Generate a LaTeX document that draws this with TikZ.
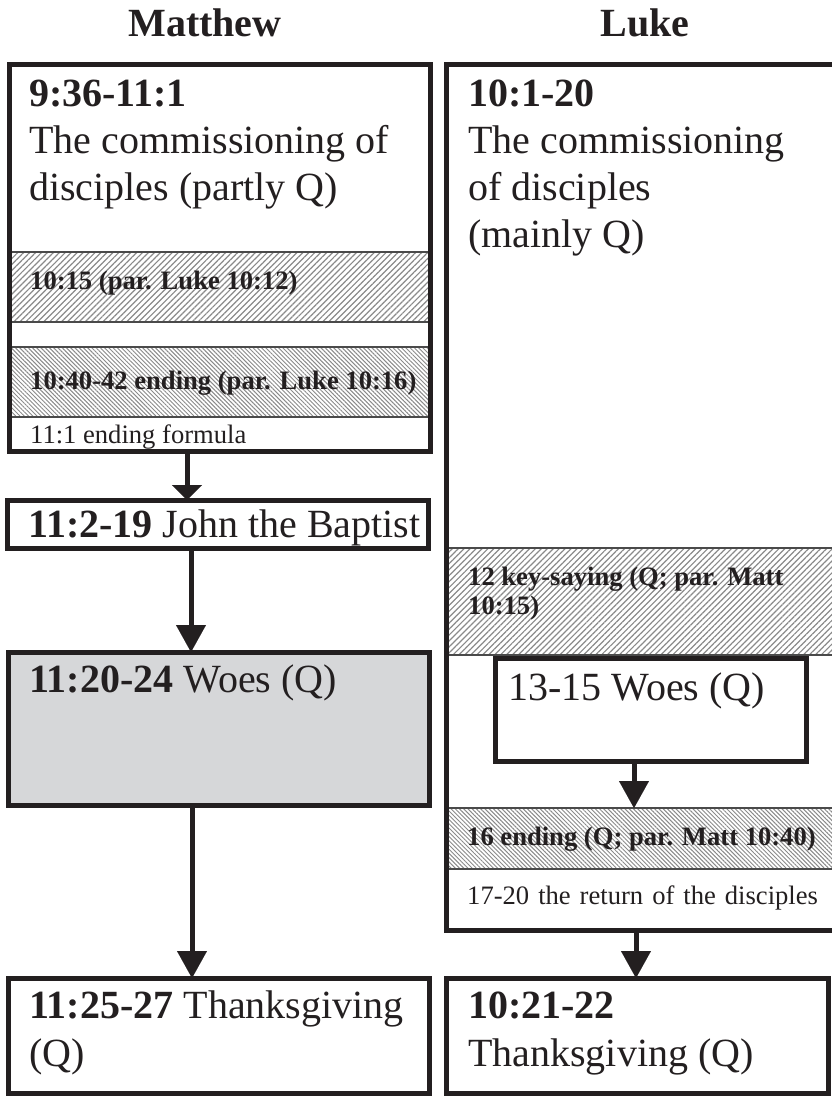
\documentclass[tikz,border=0pt]{standalone}
\usepackage{fontspec}
\setmainfont{Liberation Serif}
\usetikzlibrary{arrows.meta,patterns.meta}

\definecolor{ink}{HTML}{231F20}
\definecolor{woesgray}{HTML}{D6D7D9}
\definecolor{hatchgray}{HTML}{8A8A8A}
\definecolor{rule}{HTML}{4A4A4A}

\tikzset{
  panel/.style={draw=ink, line width=5pt, anchor=north west, inner sep=0pt, outer sep=0pt},
  band/.style={draw=rule, line width=1.3pt, anchor=north west, inner sep=0pt, outer sep=0pt},
  hatchne/.style={band, pattern={Lines[angle=45,distance=4.2pt,line width=1.2pt]}, pattern color=hatchgray},
  hatchnw/.style={band, pattern={Lines[angle=-45,distance=3pt,line width=1pt]}, pattern color=hatchgray},
  flow/.style={draw=ink, line width=5pt, -{Triangle[width=30pt,length=27pt,line width=0.1pt]}},
  flowshort/.style={draw=ink, line width=5pt, -{Triangle[width=30pt,length=15pt,line width=0.1pt]}},
  big/.style={font=\fontsize{40}{47}\selectfont, anchor=base west, inner sep=0pt, text=ink},
  small/.style={font=\fontsize{26.6}{30}\selectfont, anchor=base west, inner sep=0pt, text=ink},
  smallbf/.style={small, font=\fontsize{26.6}{30}\selectfont\bfseries},
  title/.style={font=\fontsize{40}{47}\selectfont\bfseries, anchor=base, inner sep=0pt, text=ink},
}

\begin{document}
\begin{tikzpicture}[x=1pt,y=-1pt]
\useasboundingbox (0,0) rectangle (831,1096);

% column headings
\node[title] (tM) at (205,36) {Matthew};
\node[title] (tL) at (645,36) {Luke};

% ---------------- Matthew ----------------
% hatched sub-sections of 9:36-11:1
\node[hatchne, minimum width=421pt, minimum height=70pt] (m1a) at (9,252) {};
\node[hatchnw, minimum width=421pt, minimum height=70pt] (m1b) at (9,347) {};

\node[panel, minimum width=421pt, minimum height=387pt] (m1) at (9,64) {};
\node[panel, minimum width=421pt, minimum height=48pt] (m2) at (7,500) {};
\node[panel, fill=woesgray, minimum width=421pt, minimum height=153pt] (m3) at (8,652) {};
\node[panel, minimum width=421pt, minimum height=115pt] (m4) at (8,978) {};

\node[big] (m1t1) at (29,106) {\textbf{9:36-11:1}};
\node[big] (m1t2) at (29,153) {The commissioning of};
\node[big] (m1t3) at (29,200) {disciples (partly Q)};
\node[smallbf] (m1at) at (30,289) {10:15 (par. Luke 10:12)};
\node[smallbf] (m1bt) at (30,389) {10:40-42 ending (par. Luke 10:16)};
\node[small] (m1ct) at (30,443) {11:1 ending formula};

\node[big] (m2t) at (28,537) {\textbf{11:2-19} John the Baptist};
\node[big] (m3t) at (29,692) {\textbf{11:20-24} Woes (Q)};
\node[big] (m4t1) at (29,1018) {\textbf{11:25-27} Thanksgiving};
\node[big] (m4t2) at (29,1066) {(Q)};

% flow arrows
\coordinate (ma1) at (187,0);
\coordinate (ma2) at (191,0);
\coordinate (ma3) at (192,0);
\draw[flowshort] (ma1 |- m1.south) -- (ma1 |- m2.north);
\draw[flow] (ma2 |- m2.south) -- (ma2 |- m3.north);
\draw[flow] (ma3 |- m3.south) -- (ma3 |- m4.north);

% ---------------- Luke ----------------
\node[hatchne, minimum width=396pt, minimum height=107pt] (l1a) at (446,548) {};
\node[hatchnw, minimum width=396pt, minimum height=61pt] (l1b) at (446,808) {};

\node[panel, minimum width=396pt, minimum height=866pt] (l1) at (446,64) {};
\node[panel, fill=white, minimum width=311pt, minimum height=103pt] (l2) at (495,658) {};
\node[panel, minimum width=382pt, minimum height=115pt] (l3) at (446,978) {};

\node[big] (l1t1) at (468,106) {\textbf{10:1-20}};
\node[big] (l1t2) at (468,153) {The commissioning};
\node[big] (l1t3) at (468,200) {of disciples};
\node[big] (l1t4) at (468,247) {(mainly Q)};
\node[smallbf] (l1at1) at (468,585) {12 key-saying (Q; par. Matt};
\node[smallbf] (l1at2) at (468,614) {10:15)};
\node[big] (l2t) at (508,700) {13-15 Woes (Q)};
\node[smallbf] (l1bt) at (467,845) {16 ending (Q; par. Matt 10:40)};
\node[small] (l1ct) at (467,904) {\spaceskip=9pt 17-20 the return of the disciples};
\node[big] (l3t1) at (468,1018) {\textbf{10:21-22}};
\node[big] (l3t2) at (468,1066) {Thanksgiving (Q)};

\coordinate (la1) at (634,0);
\coordinate (la2) at (636,0);
\draw[flow] (la1 |- l2.south) -- (la1 |- l1b.north);
\draw[flow] (la2 |- l1.south) -- (la2 |- l3.north);
\end{tikzpicture}
\end{document}
